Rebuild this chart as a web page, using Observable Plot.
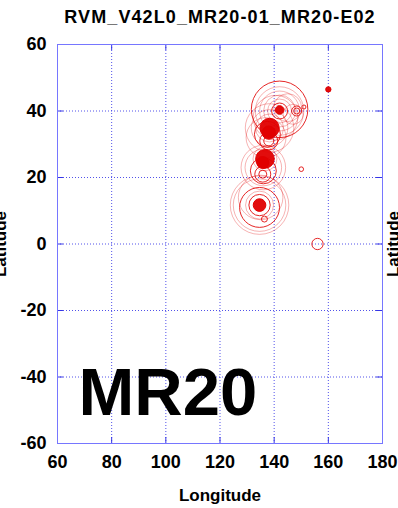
<!DOCTYPE html>
<html><head><meta charset="utf-8">
<script src="https://cdn.jsdelivr.net/npm/d3@7"></script>
<script src="https://cdn.jsdelivr.net/npm/@observablehq/plot@0.6"></script>
<style>body{margin:0;background:#fff}</style>
</head><body><div id="chart"></div>
<script>
const title = "RVM_V42L0_MR20-01_MR20-E02";
const bigLabel = "MR20";
const xLabel = "Longitude";
const yLabel = "Latitude";
const xTicks = [60, 80, 100, 120, 140, 160, 180];
const yTicks = [-60, -40, -20, 0, 20, 40, 60];

// solid (dense) event cores
const coreLon = [142.0, 138.3, 136.6, 134.6, 160.0, 138.0, 135.8];
const coreLat = [40.3, 34.9, 25.6, 11.7, 46.5, 33.5, 24.5];
const coreRad = [1.3, 2.9, 2.8, 1.9, 0.8, 2.0, 1.8];

// strong rings
const darkLon = [142.0, 148.3, 148.3, 151.0, 142.0, 138.0, 138.0, 137.5, 135.8, 135.8, 136.0, 134.6, 134.6, 136.4, 156.0, 150.0];
const darkLat = [40.0, 40.0, 40.0, 41.2, 40.5, 31.0, 31.0, 33.0, 21.0, 21.0, 22.0, 11.7, 11.0, 7.5, 0.0, 22.5];
const darkRad = [2.4, 0.9, 1.5, 0.6, 8.5, 1.5, 2.7, 3.9, 1.2, 2.4, 3.9, 3.2, 6.0, 0.9, 1.7, 0.7];

// faint rings
const lightLon = [142.0, 142.0, 142.0, 142.0, 140.5, 145.0, 147.0, 138.3, 138.3, 138.3, 137.0, 136.0, 136.0, 136.6, 134.6, 134.6, 134.6, 135.0];
const lightLat = [40.0, 40.0, 40.0, 40.0, 38.0, 41.0, 39.0, 34.9, 34.9, 34.9, 32.0, 23.0, 23.0, 25.6, 11.7, 11.7, 11.7, 14.0];
const lightRad = [3.6, 4.8, 6.0, 7.3, 6.7, 4.2, 3.0, 4.2, 5.5, 7.3, 6.0, 5.5, 6.7, 3.6, 4.2, 7.9, 8.8, 6.7];

const toRows = (lon, lat, rad) => lon.map((x, i) => ({lon: x, lat: lat[i], rad: rad[i]}));
const cores = toRows(coreLon, coreLat, coreRad);
const darkRings = toRows(darkLon, darkLat, darkRad);
const lightRings = toRows(lightLon, lightLat, lightRad);

const xMin = xTicks[0], xMax = xTicks[xTicks.length - 1];
const yMin = yTicks[0], yMax = yTicks[yTicks.length - 1];
const inner = (a) => a.slice(1, -1);
const fmt = (d) => String(d);

const blue = "#3434e6";
const frameBlue = "#7676ff";
const red = "#e00000";

const chart = Plot.plot({
  width: 398,
  height: 508,
  marginLeft: 57,
  marginRight: 16,
  marginTop: 44,
  marginBottom: 65,
  style: {fontFamily: "'Liberation Sans', Arial, sans-serif", fontSize: "18px", fontWeight: "bold", color: "#000", background: "#fff", overflow: "visible"},
  x: {domain: [xMin, xMax], ticks: xTicks, tickSize: 0, tickPadding: 12, label: null},
  y: {domain: [yMin, yMax], ticks: yTicks, tickSize: 0, tickPadding: 11, label: null},
  r: {type: "linear", domain: [0, 10], range: [0, 33.25]},
  marks: [
    Plot.ruleX(inner(xTicks), {stroke: blue, strokeDasharray: "1,2", strokeWidth: 1, strokeOpacity: 0.85}),
    Plot.ruleY(inner(yTicks), {stroke: blue, strokeDasharray: "1,2", strokeWidth: 1, strokeOpacity: 0.85}),
    Plot.ruleX(inner(xTicks), {y1: () => yMin, y2: () => yMin + 1.8, stroke: blue}),
    Plot.ruleX(inner(xTicks), {y1: () => yMax, y2: () => yMax - 1.8, stroke: blue}),
    Plot.ruleY(inner(yTicks), {x1: () => xMin, x2: () => xMin + 2.2, stroke: blue}),
    Plot.ruleY(inner(yTicks), {x1: () => xMax, x2: () => xMax - 2.2, stroke: blue}),
    Plot.frame({stroke: frameBlue, strokeWidth: 1}),
    Plot.dot(lightRings, {x: "lon", y: "lat", r: "rad", stroke: red, strokeOpacity: 0.3, strokeWidth: 1, fill: "none"}),
    Plot.dot(darkRings, {x: "lon", y: "lat", r: "rad", stroke: red, strokeOpacity: 0.85, strokeWidth: 1, fill: "none"}),
    Plot.dot(cores, {x: "lon", y: "lat", r: "rad", stroke: red, fill: red, fillOpacity: 0.95, strokeWidth: 1}),
    Plot.axisX({ticks: xTicks, tickFormat: fmt, tickSize: 0, tickPadding: 12, label: null}),
    Plot.axisY({ticks: yTicks, tickFormat: fmt, tickSize: 0, tickPadding: 11, label: null}),
    Plot.text([title], {frameAnchor: "top", lineAnchor: "middle", dy: -27, fontSize: 18, fontWeight: "bold", fill: "#000"}),
    Plot.text([xLabel], {frameAnchor: "bottom", lineAnchor: "middle", dy: 52, fontSize: 17, fontWeight: "bold", fill: "#000"}),
    Plot.text([yLabel], {frameAnchor: "left", textAnchor: "middle", lineAnchor: "middle", dx: -57.4, rotate: -90, fontSize: 17, fontWeight: "bold", fill: "#000"}),
    Plot.text([yLabel], {frameAnchor: "right", textAnchor: "middle", lineAnchor: "middle", dx: 10.6, rotate: -90, fontSize: 17, fontWeight: "bold", fill: "#000"}),
    Plot.text([bigLabel], {frameAnchor: "bottom-left", textAnchor: "start", lineAnchor: "middle", dx: 21, dy: -50.4, fontSize: 67, fontWeight: "bold", fill: "#000"})
  ]
});
d3.select(chart).selectAll("text").filter(function () { return this.textContent === title; })
  .attr("letter-spacing", "1.1px");
document.getElementById("chart").appendChild(chart);
</script>
</body></html>
